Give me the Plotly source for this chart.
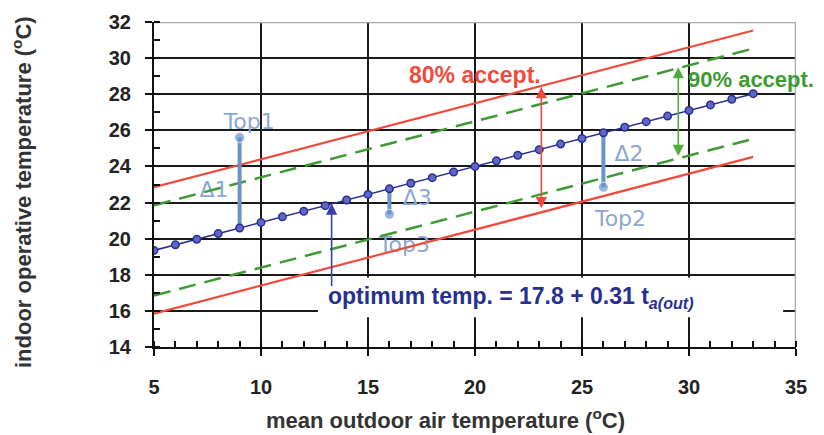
import plotly.graph_objects as go

# ---- data ----
t_out = list(range(5, 34))
t_opt = [19.35, 19.66, 19.97, 20.28, 20.59, 20.90, 21.21, 21.52, 21.83, 22.14,
         22.45, 22.76, 23.07, 23.38, 23.69, 24.00, 24.31, 24.62, 24.93, 25.24,
         25.55, 25.86, 26.17, 26.48, 26.79, 27.10, 27.41, 27.72, 28.03]
band_x = [5, 33]
upper80 = [22.85, 31.53]
lower80 = [15.85, 24.53]
upper90 = [21.85, 30.53]
lower90 = [16.85, 25.53]

# operative temperature samples (x, optimum, measured)
top_names = ["Top1", "Top2", "Top3"]
delta_names = ["Δ1", "Δ2", "Δ3"]
top_x = [9, 26, 16]
top_base = [20.59, 25.86, 22.76]
top_val = [25.6, 22.85, 21.35]

arrow80_x, arrow80 = 23.1, [21.6, 28.4]
arrow90_x, arrow90 = 29.5, [24.5, 29.5]
opt_arrow_x, opt_arrow = 13.3, [17.3, 21.95]

x_ticks = [5, 10, 15, 20, 25, 30, 35]
y_ticks = [14, 16, 18, 20, 22, 24, 26, 28, 30, 32]

RED = "#f04a3c"
GREEN = "#3f9a33"
NAVY = "#2a2f92"
LBLUE = "#6b93c8"
TBLUE = "#8aa8d4"
FONT = "Liberation Sans, Arial, sans-serif"
LFONT = "DejaVu Sans, sans-serif"

fig = go.Figure()

# label offsets (relative to the measured point / optimum point)
lab_off = [(0.45, 0.8), (0.8, -1.85), (0.7, -1.8)]
dl_pos = [(-1.2, 22.6), (1.2, 24.6), (1.3, 22.15)]
for i in range(3):
    fig.add_trace(go.Scatter(x=[top_x[i] + lab_off[i][0]], y=[top_val[i] + lab_off[i][1]],
                             mode="text", text=[top_names[i]],
                             textfont=dict(family=LFONT, size=22, color=TBLUE),
                             hoverinfo="skip", showlegend=False))
    fig.add_trace(go.Scatter(x=[top_x[i] + dl_pos[i][0]], y=[dl_pos[i][1]],
                             mode="text", text=[delta_names[i]],
                             textfont=dict(family=LFONT, size=22, color=TBLUE),
                             hoverinfo="skip", showlegend=False))

for ys, col, dash, w in [(upper80, RED, "solid", 2.2), (lower80, RED, "solid", 2.2),
                         (upper90, GREEN, "17px,9px", 2.5), (lower90, GREEN, "17px,9px", 2.5)]:
    fig.add_trace(go.Scatter(x=band_x, y=ys, mode="lines",
                             line=dict(color=col, width=w, dash=dash),
                             hoverinfo="skip", showlegend=False))

for i in range(3):
    fig.add_trace(go.Scatter(x=[top_x[i], top_x[i]], y=[top_base[i], top_val[i]],
                             mode="lines+markers",
                             line=dict(color=LBLUE, width=4),
                             marker=dict(size=[0, 10], color=LBLUE),
                             hoverinfo="skip", showlegend=False))

fig.add_trace(go.Scatter(x=t_out, y=t_opt, mode="lines+markers",
                         line=dict(color=NAVY, width=1.5),
                         marker=dict(size=7.5, color="#6068c4",
                                     line=dict(color=NAVY, width=1.5)),
                         showlegend=False))

# white box behind the equation
fig.add_shape(type="rect", x0=12.66, x1=34.4, y0=15.65, y1=17.85,
              xref="x", yref="y", fillcolor="white", line=dict(width=0), layer="between")
# gray top/right border
fig.add_shape(type="line", x0=5, x1=35, y0=32, y1=32, xref="x", yref="y",
              line=dict(color="#a8a8a8", width=2.5), layer="between")
fig.add_shape(type="line", x0=35, x1=35, y0=14, y1=32, xref="x", yref="y",
              line=dict(color="#a8a8a8", width=2.5), layer="between")

# arrows
fig.add_annotation(x=arrow80_x, y=arrow80[1], ax=arrow80_x, ay=arrow80[0],
                   xref="x", yref="y", axref="x", ayref="y", text="",
                   showarrow=True, arrowhead=2, arrowside="end+start",
                   arrowwidth=1.6, arrowsize=1.4, arrowcolor=RED)
fig.add_annotation(x=arrow90_x, y=arrow90[1], ax=arrow90_x, ay=arrow90[0],
                   xref="x", yref="y", axref="x", ayref="y", text="",
                   showarrow=True, arrowhead=2, arrowside="end+start",
                   arrowwidth=1.6, arrowsize=1.4, arrowcolor="#4caf3c")
fig.add_annotation(x=opt_arrow_x, y=opt_arrow[1], ax=opt_arrow_x, ay=opt_arrow[0],
                   xref="x", yref="y", axref="x", ayref="y", text="",
                   showarrow=True, arrowhead=2, arrowwidth=1.6, arrowsize=1.4,
                   arrowcolor="#3a40a8")

fig.add_annotation(x=20.0, y=29.05, xref="x", yref="y", text="<b>80% accept.</b>",
                   showarrow=False, font=dict(family=FONT, size=23, color=RED))
fig.add_annotation(x=29.85, y=28.8, xref="x", yref="y", xanchor="left",
                   text="<b>90% accept.</b>", showarrow=False,
                   font=dict(family=FONT, size=22, color=GREEN))
fig.add_annotation(x=13.05, y=16.75, xref="x", yref="y", xanchor="left",
                   text="<b>optimum temp. = 17.8 + 0.31 t<sub><i>a(out)</i></sub></b>",
                   showarrow=False, font=dict(family=FONT, size=23, color="#28308f"))

# axis titles
fig.add_annotation(x=(445 - 154) / 642, y=(347 - 419) / 325, xref="paper", yref="paper",
                   xanchor="center", yanchor="middle",
                   text="<b>mean outdoor air temperature (<sup>o</sup>C)</b>",
                   showarrow=False, font=dict(family=FONT, size=22, color="#333"))
fig.add_annotation(x=(22 - 154) / 642, y=(347 - 192) / 325, xref="paper", yref="paper",
                   xanchor="center", yanchor="middle",
                   text="<b>indoor operative temperature (<sup>o</sup>C)</b>", textangle=-90,
                   showarrow=False, font=dict(family=FONT, size=22, color="#333"))

axis_common = dict(showline=True, linecolor="#111", linewidth=2,
                   ticks="outside", ticklen=7, tickwidth=2, tickcolor="#111",
                   showgrid=True, gridcolor="#1a1a1a", gridwidth=1.6,
                   zeroline=False, automargin=False,
                   tickfont=dict(family=FONT, size=20, color="#222", weight="bold"))

fig.update_xaxes(range=[5, 35], tickvals=x_ticks, ticktext=[str(v) for v in x_ticks],
                 minor=dict(ticks="inside", ticklen=6, tickwidth=1.6, tickcolor="#111",
                            dtick=1, tick0=5, showgrid=False),
                 ticklabelstandoff=14, **axis_common)
fig.update_yaxes(range=[14, 32], tickvals=y_ticks, ticktext=[str(v) for v in y_ticks],
                 minor=dict(ticks="inside", ticklen=6, tickwidth=1.6, tickcolor="#111",
                            dtick=1, tick0=14, showgrid=False),
                 ticklabelstandoff=10, **axis_common)

fig.update_layout(width=816, height=427, plot_bgcolor="white", paper_bgcolor="white",
                  margin=dict(l=146, r=28, t=14, b=88, autoexpand=False), showlegend=False)

fig.write_html("out.html")
